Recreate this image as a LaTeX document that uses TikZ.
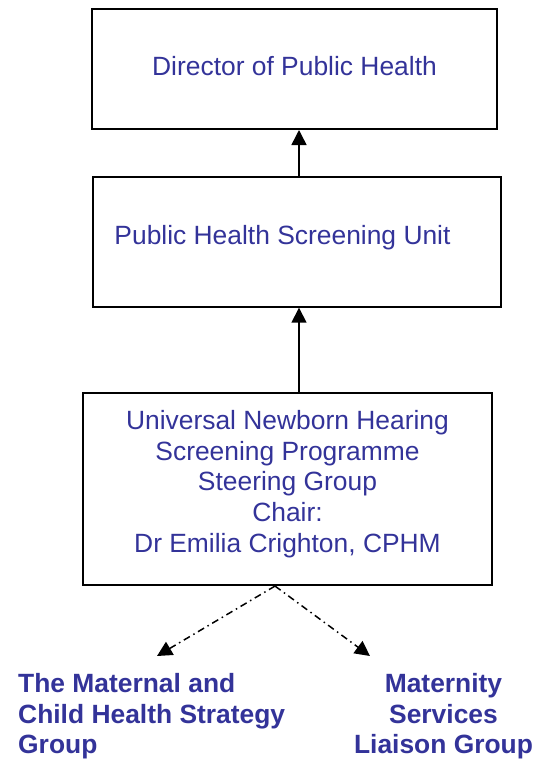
\documentclass[tikz,border=0pt]{standalone}
\usepackage{fontspec}
\setmainfont{Liberation Sans}
\usetikzlibrary{arrows.meta}
\definecolor{txt}{RGB}{51,51,153}
\begin{document}
\begin{tikzpicture}[x=1pt,y=-1pt,
  box/.style={draw, line width=2pt, inner sep=0pt, text=txt, font=\fontsize{26.4pt}{30.7pt}\selectfont},
  grp/.style={inner sep=0pt, text=txt, font=\bfseries\fontsize{26.4pt}{30.7pt}\selectfont},
  up/.style={line width=1.5pt, -{Triangle[length=15pt,width=15pt]}},
  dd/.style={line width=1.5pt, dash pattern=on 7pt off 4pt on 1.5pt off 4pt, -{Triangle[length=15pt,width=15pt]}}]
\useasboundingbox (0,0) rectangle (536,760);
\node[box, minimum width=405pt, minimum height=120pt, text height=18.9pt, text depth=5pt] (dph) at (294.5,69) {Director of Public Health};
\node[box, minimum width=408pt, minimum height=129.4pt, text height=18.9pt, text depth=14.9pt] (unit) at (296.8,242) {Public Health Screening Unit\hspace*{28.6pt}};
\node[box, align=center, minimum width=408.4pt, minimum height=191.7pt] (steer) at (287.5,489.2) {Universal Newborn Hearing\\Screening Programme\\Steering Group\\Chair:\\Dr Emilia Crighton, CPHM\rule[-16pt]{0pt}{16pt}};
\coordinate (ax) at (299,0);
\draw[up] (unit.north -| ax) -- (dph.south -| ax);
\draw[up] (steer.north -| ax) -- (unit.south -| ax);
\coordinate (sx) at (275,0);
\coordinate (tl) at (157,656);
\coordinate (tr) at (370,656);
\draw[dd] (steer.south -| sx) -- (tl);
\draw[dd] (steer.south -| sx) -- (tr);
\node[grp, align=left, anchor=north west] (mch) at (18,673) {The Maternal and\\Child Health Strategy\\Group};
\node[grp, align=center, anchor=north] (msl) at (443.5,673) {Maternity\\Services\\Liaison Group};
\end{tikzpicture}
\end{document}
